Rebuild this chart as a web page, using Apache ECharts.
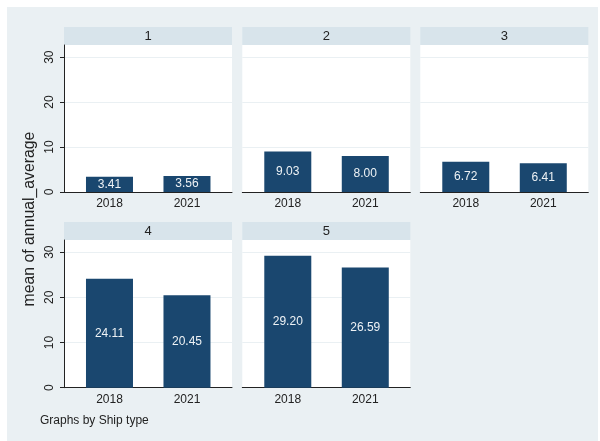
<!DOCTYPE html>
<html>
<head>
<meta charset="utf-8">
<script src="https://cdn.jsdelivr.net/npm/echarts@6/dist/echarts.min.js"></script>
<style>
  html, body { margin: 0; padding: 0; background: #ffffff; }
  #chart { width: 600px; height: 441px; }
</style>
</head>
<body>
<div id="chart"></div>
<script>
// ---- data ----
const categories = ['2018', '2021'];
const panelLabels = ['1', '2', '3', '4', '5'];
const type1 = [3.41, 3.56];
const type2 = [9.03, 8.00];
const type3 = [6.72, 6.41];
const type4 = [24.11, 20.45];
const type5 = [29.20, 26.59];
const yTicks = [0, 10, 20, 30];
const yTitle = 'mean of annual_average';
const noteText = 'Graphs by Ship type';

const panelValues = [type1, type2, type3, type4, type5];

// ---- layout ----
const colLeft = [64, 242.3, 420.3];
const panelW = 168;
const rowTop = [45, 240];
const rowH = [147, 147.7];
const stripH = 18;
const FONT = 'Liberation Sans, Arial, sans-serif';
const BG = '#EAF0F3';
const STRIP = '#D8E4EB';
const BAR = '#1A476F';

const grids = [], xAxes = [], yAxes = [], series = [], graphics = [];

// white outer margins
graphics.push({ type: 'rect', shape: { x: 0, y: 0, width: 600, height: 7 }, style: { fill: '#fff' } });
graphics.push({ type: 'rect', shape: { x: 0, y: 0, width: 7, height: 441 }, style: { fill: '#fff' } });
graphics.push({ type: 'rect', shape: { x: 598, y: 0, width: 2, height: 441 }, style: { fill: '#fff' } });

panelValues.forEach((vals, i) => {
  const row = i < 3 ? 0 : 1;
  const col = i % 3;
  const left = colLeft[col];
  const top = rowTop[row];
  const showY = col === 0;

  grids.push({
    left: left, top: top, width: panelW, height: rowH[row],
    show: true, backgroundColor: '#ffffff', borderWidth: 0
  });

  xAxes.push({
    type: 'value', gridIndex: i,
    min: 0.413, max: 2.581,
    axisLine: { show: true, onZero: false, lineStyle: { color: '#222', width: 1 } },
    axisTick: { show: false },
    splitLine: { show: false },
    axisLabel: {
      customValues: [1, 2],
      formatter: v => categories[Math.round(v) - 1],
      fontFamily: FONT, fontSize: 12, color: '#222', margin: 6
    }
  });

  yAxes.push({
    type: 'value', gridIndex: i,
    min: 0, max: 32.7, interval: 10,
    axisLine: { show: showY, lineStyle: { color: '#222', width: 1 } },
    axisTick: { show: showY, length: 4, customValues: yTicks, lineStyle: { color: '#222' } },
    axisLabel: {
      show: showY, customValues: yTicks, rotate: 90,
      fontFamily: FONT, fontSize: 12, color: '#222', margin: 8
    },
    splitLine: { show: true, lineStyle: { color: '#EAF0F3', width: 1 } }
  });

  series.push({
    type: 'bar', xAxisIndex: i, yAxisIndex: i,
    barWidth: 47,
    itemStyle: { color: BAR },
    data: vals.map((v, k) => [k + 1, v]),
    label: {
      show: true, position: 'inside',
      fontFamily: FONT, fontSize: 12, color: '#eef2f5',
      formatter: p => p.value[1].toFixed(2)
    },
    silent: true, animation: false
  });

  // strip header
  graphics.push({
    type: 'rect',
    shape: { x: left, y: top - stripH, width: panelW, height: stripH },
    style: { fill: STRIP }
  });
  graphics.push({
    type: 'text',
    x: left + panelW / 2, y: top - stripH / 2,
    style: {
      text: panelLabels[i], fill: '#222', font: '13px ' + FONT,
      textAlign: 'center', textVerticalAlign: 'middle'
    }
  });
});

// y axis title
graphics.push({
  type: 'text', x: 30, y: 219, rotation: Math.PI / 2,
  style: {
    text: yTitle, fill: '#222', font: '15.8px ' + FONT,
    textAlign: 'center', textVerticalAlign: 'middle'
  }
});
// note
graphics.push({
  type: 'text', x: 40, y: 421,
  style: {
    text: noteText, fill: '#222', font: '12px ' + FONT,
    textAlign: 'left', textVerticalAlign: 'middle'
  }
});

const chart = echarts.init(document.getElementById('chart'), null, { renderer: 'canvas' });
chart.setOption({
  backgroundColor: BG,
  animation: false,
  grid: grids,
  xAxis: xAxes,
  yAxis: yAxes,
  series: series,
  graphic: { elements: graphics }
});
</script>
</body>
</html>
